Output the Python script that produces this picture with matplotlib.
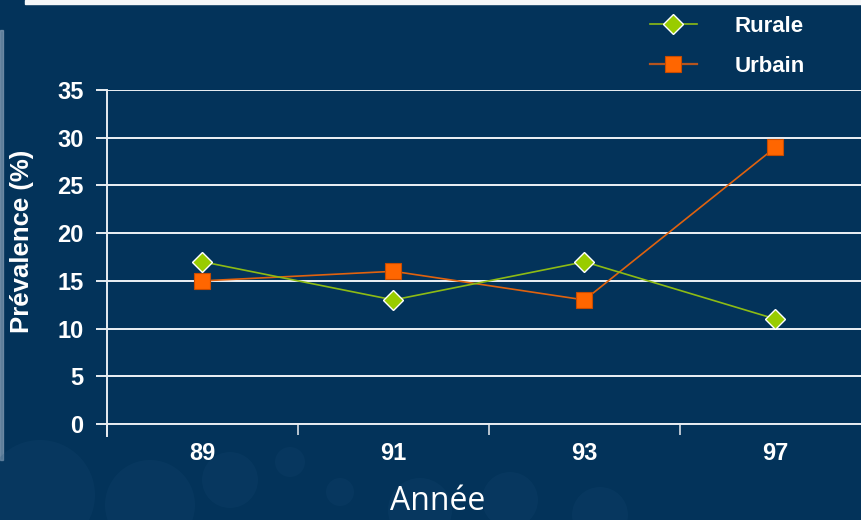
import matplotlib
matplotlib.use("Agg")
import matplotlib.pyplot as plt
from matplotlib import font_manager
from matplotlib.patches import Rectangle, Ellipse
from matplotlib.lines import Line2D

# Data
years = ["89", "91", "93", "97"]
rurale = [17, 13, 17, 11]
urbain = [15, 16, 13, 29]
y_ticks = [0, 5, 10, 15, 20, 25, 30, 35]

BG = "#03335A"
WHITE = "#FFFFFF"
GREEN = "#99CC00"
GREEN_LINE = "#8DBB14"
ORANGE = "#FF6600"
ORANGE_LINE = "#E0620E"

installed = {f.name for f in font_manager.fontManager.ttflist}
bold_font = "Liberation Sans" if "Liberation Sans" in installed else "DejaVu Sans"
plt.rcParams["font.family"] = [bold_font, "DejaVu Sans"]

W, H = 862, 520
fig = plt.figure(figsize=(W / 100, H / 100), dpi=100, facecolor=BG)


def fx(px):
    return px / W


def fy(py):
    return 1 - py / H


# Backdrop decoration: white strip on top, soft glow at the left edge,
# and faint molecule-like blobs near the bottom.
fig.patches.append(Rectangle((fx(25), fy(4)), 1, 4 / H, transform=fig.transFigure,
                             color="#F4F6F8", zorder=0))
fig.patches.append(Rectangle((0, fy(460)), fx(3), 430 / H, transform=fig.transFigure,
                             color="#9FB3C8", alpha=0.55, zorder=0))
for cx, cy, r in [(40, 495, 55), (150, 505, 45), (230, 480, 28), (290, 462, 15),
                  (340, 492, 14), (420, 510, 32), (510, 500, 28), (600, 515, 28)]:
    fig.patches.append(Ellipse((fx(cx), fy(cy)), 2 * r / W, 2 * r / H,
                               transform=fig.transFigure, color="#1A4E77",
                               alpha=0.18, lw=0, zorder=0))

left = fx(107)
right = fx(871)
bottom = fy(424)
top = fy(90)
ax = fig.add_axes([left, bottom, right - left, top - bottom])
ax.set_facecolor("none")

x = list(range(1, len(years) + 1))
ax.plot(x, rurale, color=GREEN_LINE, lw=1.2, marker="D", markersize=10.5,
        markerfacecolor=GREEN, markeredgecolor=WHITE, markeredgewidth=1.0,
        label="Rurale", zorder=4)
ax.plot(x, urbain, color=ORANGE_LINE, lw=1.2, marker="s", markersize=12,
        markerfacecolor=ORANGE, markeredgecolor="#C84B00", markeredgewidth=0.8,
        label="Urbain", zorder=3)

ax.set_xlim(0.5, len(years) + 0.5)
ax.set_ylim(0, 35)
ax.set_yticks(y_ticks)
ax.set_yticklabels([str(v) for v in y_ticks])
ax.set_xticks(x)
ax.set_xticklabels(years)
ax.set_xticks([i + 0.5 for i in range(0, len(years) + 1)], minor=True)

ax.grid(axis="y", color="#EEF2F6", lw=1.4, zorder=1)
ax.set_axisbelow(True)
for s in ["top", "right"]:
    ax.spines[s].set_visible(False)
ax.spines["left"].set_color("#E8EDF2")
ax.spines["left"].set_linewidth(1.4)
ax.spines["left"].set_bounds(-1.3, 35)
ax.spines["bottom"].set_color("#E8EDF2")
ax.spines["bottom"].set_linewidth(1.4)

ax.tick_params(axis="y", length=8, width=1.4, color="#E8EDF2", pad=9,
               labelcolor=WHITE, labelsize=17)
ax.tick_params(axis="x", which="major", length=0, pad=13,
               labelcolor=WHITE, labelsize=17)
ax.tick_params(axis="x", which="minor", length=8, width=1.4, color="#B8C4D0")
for lab in ax.get_yticklabels() + ax.get_xticklabels():
    lab.set_fontweight("bold")

fig.text(fx(22), fy(241), "Prévalence (%)", rotation=90, ha="center", va="center",
         color=WHITE, fontsize=18.5, fontweight="bold")
fig.text(fx(438), fy(502), "Année", ha="center", va="center",
         color=WHITE, fontsize=23, family=["Open Sans", "DejaVu Sans"])

handles = [
    Line2D([], [], color=GREEN_LINE, lw=1.2, marker="D", markersize=10.5,
           markerfacecolor=GREEN, markeredgecolor=WHITE, markeredgewidth=1.0),
    Line2D([], [], color="#B5541E", lw=1.6, marker="s", markersize=12,
           markerfacecolor=ORANGE, markeredgecolor="#C84B00", markeredgewidth=0.8),
]
leg = fig.legend(handles, ["Rurale", "Urbain"], loc="upper left",
                 bbox_to_anchor=(fx(630), fy(-4)), frameon=False,
                 handlelength=2.1, handletextpad=1.7, labelspacing=0.85,
                 prop={"weight": "bold", "size": 16})
for t in leg.get_texts():
    t.set_color(WHITE)

fig.savefig("out.png", dpi=100, facecolor=BG)
